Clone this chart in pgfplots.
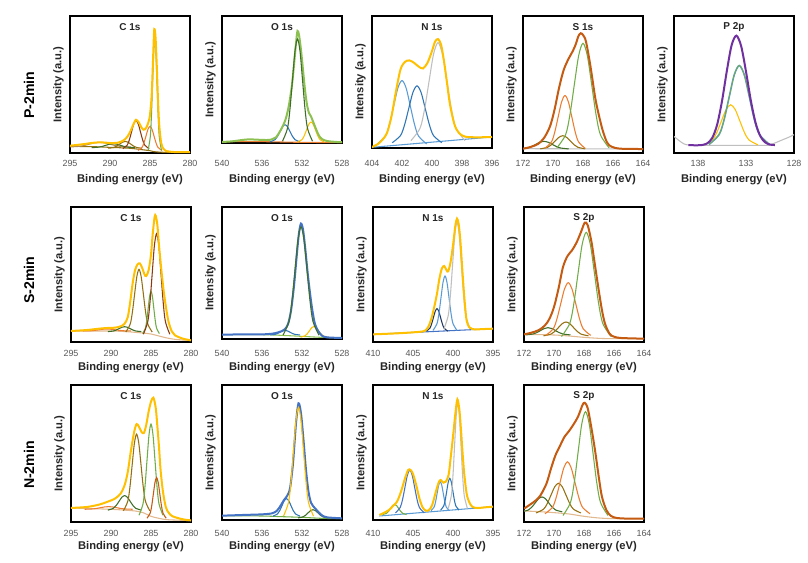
\documentclass[border=0pt]{standalone}
\usepackage{fontspec}
\setmainfont{Liberation Sans}
\usepackage{pgfplots}
\pgfplotsset{compat=1.18}
\definecolor{cy}{HTML}{FFC000}
\definecolor{cg}{HTML}{70AD47}
\definecolor{clg}{HTML}{8CC152}
\definecolor{cdg}{HTML}{3F6E28}
\definecolor{co}{HTML}{ED7D31}
\definecolor{cbr}{HTML}{C55A11}
\definecolor{cdbr}{HTML}{8B3A0F}
\definecolor{col}{HTML}{947010}
\definecolor{ctn}{HTML}{B08A50}
\definecolor{cb}{HTML}{4472C4}
\definecolor{clb}{HTML}{5B9BD5}
\definecolor{cmb}{HTML}{2E75B6}
\definecolor{cnv}{HTML}{203864}
\definecolor{cgr}{HTML}{BFBFBF}
\definecolor{cpu}{HTML}{7030A0}
\definecolor{cbg}{HTML}{E2B98E}
\definecolor{tickc}{HTML}{595959}
\definecolor{labc}{HTML}{262626}
\pgfplotsset{
  xps/.style={scale only axis, width=90pt, x dir=reverse, ymin=0,
    ytick=\empty, axis line style={line width=1.4pt, black},
    xtick style={draw=none},
    tick label style={font=\fontsize{6.7}{8}\selectfont, text=tickc},
    /pgf/number format/assume math mode=true,
    xlabel={Binding energy (eV)}, ylabel={Intensity (a.u.)},
    label style={font=\fontsize{8.4}{10}\selectfont\bfseries, text=labc},
    ylabel style={at={(axis description cs:-0.05,0.5)}, anchor=south, inner sep=0pt},
    xticklabel style={anchor=center},
    xlabel style={at={(axis description cs:0.5,0)}, anchor=center},
    every axis title/.style={at={(axis description cs:0.5,1)}, anchor=center, yshift=-8.25pt, font=\fontsize{7.5}{9}\selectfont\bfseries, text=labc},
    every axis plot/.append style={smooth, line width=0.8pt, mark=none},
  },
  env/.style={line width=1.5pt},
}
\begin{document}
\begin{tikzpicture}
\useasboundingbox (0,0) rectangle (606pt,-421.5pt);
\fill[white] (0,0) rectangle (606pt,-421.5pt);
\node[rotate=90, font=\fontsize{10.6}{12}\selectfont\bfseries] at (21.75pt,-71.25pt) {P-2min};
\node[rotate=90, font=\fontsize{10.6}{12}\selectfont\bfseries] at (21.75pt,-210pt) {S-2min};
\node[rotate=90, font=\fontsize{10.6}{12}\selectfont\bfseries] at (21.75pt,-348.75pt) {N-2min};

% ---------- P1 C 1s (P-2min)
\begin{axis}[xps, at={(52.5pt,-12pt)}, anchor=north west, height=102.75pt,
  xticklabel style={yshift=-7.5pt}, xlabel style={yshift=-20.25pt},
  xmin=280, xmax=295, ymax=412, xtick={280,285,290,295}, title={C 1s}]
\addplot[col] coordinates {(295,20)(292,19)(290,17)(288,15)(287,13)(286,10)(285,7)(284.5,4)(284,3)(283,2)(280,2)};
\addplot[ctn] coordinates {(295,18.3)(293.9,19.9)(293.25,22.5)(292.6,26.5)(291.95,30.4)(291.3,32)(290.65,30.4)(290,26.5)(289.35,22.5)(288.7,19.9)(287.4,18.2)};
\addplot[cdg] coordinates {(292.3,16.1)(291.4,17.6)(290.95,19.9)(290.5,23.3)(290.05,26.6)(289.6,28)(289.15,26.6)(288.7,23.3)(288.25,19.9)(287.8,17.6)(286.9,16.1)};
\addplot[col] coordinates {(290.2,14.2)(289.5,16.8)(289.15,20.8)(288.8,26.7)(288.45,32.5)(288.1,35)(287.75,32.5)(287.4,26.7)(287.05,20.8)(286.7,16.8)(286,14.2)};
\addplot[cdbr] coordinates {(288.4,13)(287.85,23.6)(287.575,39.9)(287.3,64.2)(287.025,87.9)(286.75,98)(286.475,87.9)(286.2,64.2)(285.925,39.9)(285.65,23.6)(285.1,13)};
\addplot[co] coordinates {(286.5,7.8)(286,16.9)(285.75,30.7)(285.5,51.3)(285.25,71.4)(285,80)(284.75,71.4)(284.5,51.3)(284.25,30.7)(284,16.9)(283.5,7.8)};
\addplot[cg] coordinates {(285.24,7.7)(284.96,49.5)(284.82,113.1)(284.68,207.8)(284.54,300.5)(284.4,340)(284.26,300.5)(284.12,207.8)(283.98,113.1)(283.84,49.5)(283.56,7.7)};
\addplot[cy, env] coordinates {(295,22)(293.5,26)(292,31)(291,32)(290,30)(289,31)(288.3,38)(287.8,50)(287.4,68)(287,90)(286.75,100)(286.4,92)(286.1,78)(285.8,70)(285.5,75)(285.2,92)(285,115)(284.8,170)(284.65,260)(284.5,360)(284.42,372)(284.3,345)(284.15,260)(284,160)(283.85,85)(283.6,30)(283.3,12)(283,6)(282,3)(280,3)};
\end{axis}

% ---------- P2 O 1s (P-2min)
\begin{axis}[xps, at={(166.5pt,-12pt)}, anchor=north west, height=95.25pt,
  xticklabel style={yshift=-15pt}, xlabel style={yshift=-27.75pt},
  xmin=528, xmax=540, ymax=382, xtick={528,532,536,540}, title={O 1s}]
\addplot[co] coordinates {(540,4)(536,4)(534,3)(532,2)(528,1)};
\addplot[cmb] coordinates {(535.2,3.6)(534.7,10)(534.45,19.9)(534.2,34.5)(533.95,48.9)(533.7,55)(533.45,48.9)(533.2,34.5)(532.95,19.9)(532.7,10)(532.2,3.6)};
\addplot[cy] coordinates {(532.45,2.7)(532.0,10.3)(531.775,21.8)(531.55,39)(531.325,55.8)(531.1,63)(530.875,55.8)(530.65,39)(530.425,21.8)(530.2,10.3)(529.75,2.7)};
\addplot[clg, env] coordinates {(540,3)(539,5)(538,9)(537.3,11)(536.5,10)(535.5,9)(535,11)(534.6,17)(534.2,35)(533.9,52)(533.6,75)(533.3,115)(533,175)(532.8,235)(532.6,300)(532.45,337)(532.3,325)(532.1,280)(531.9,220)(531.7,160)(531.5,115)(531.3,90)(531.1,80)(530.9,65)(530.6,42)(530.3,22)(530,12)(529.5,6)(528.5,3)(528,3)};
\addplot[cdg] coordinates {(533.95,5.5)(533.45,44.1)(533.2,103)(532.95,190.6)(532.7,276.5)(532.45,313)(532.2,276.5)(531.95,190.6)(531.7,103)(531.45,44.1)(530.95,5.5)};
\end{axis}

% ---------- P3 N 1s (P-2min)
\begin{axis}[xps, at={(279pt,-12pt)}, anchor=north west, height=99pt,
  xticklabel style={yshift=-11.25pt}, xlabel style={yshift=-24pt},
  xmin=396, xmax=404, ymax=395, xtick={396,398,400,402,404}, title={N 1s}]
\addplot[clb] coordinates {(404,2)(396,33)};
\addplot[clb] coordinates {(403.65,12.1)(403.1,36)(402.825,72.3)(402.55,126.4)(402.275,179.4)(402.0,202)(401.725,179.4)(401.45,126.4)(401.175,72.3)(400.9,36)(400.35,12.1)};
\addplot[cmb] coordinates {(402.65,15.9)(402.1,37.3)(401.825,69.8)(401.55,118.3)(401.275,165.8)(401.0,186)(400.725,165.8)(400.45,118.3)(400.175,69.8)(399.9,37.3)(399.35,15.9)};
\addplot[cgr] coordinates {(401.4,22.3)(400.8,59)(400.5,115.1)(400.2,198.5)(399.9,280.2)(399.6,315)(399.3,280.2)(399.0,198.5)(398.7,115.1)(398.4,59)(397.8,22.3)};
\addplot[cy, env] coordinates {(404,3)(403.6,12)(403.3,25)(403,45)(402.7,95)(402.4,170)(402.1,235)(401.8,258)(401.5,262)(401.2,255)(400.9,244)(400.6,238)(400.3,255)(400,290)(399.8,318)(399.6,326)(399.4,310)(399.2,260)(399,195)(398.8,130)(398.5,70)(398.2,45)(397.8,34)(397,32)(396,33)};
\end{axis}

% ---------- P4 S 1s (P-2min)
\begin{axis}[xps, at={(392.25pt,-12pt)}, anchor=north west, height=102.75pt,
  xticklabel style={yshift=-7.5pt}, xlabel style={yshift=-20.25pt},
  xmin=164, xmax=172, ymax=412, xtick={164,166,168,170,172}, title={S 1s}]
\addplot[cgr] coordinates {(172,13)(164,12)};
\addplot[cdg] coordinates {(172.25,12.3)(171.7,15.1)(171.425,19.5)(171.15,25.9)(170.875,32.3)(170.6,35)(170.325,32.3)(170.05,25.9)(169.775,19.5)(169.5,15.1)(168.95,12.3)};
\addplot[col] coordinates {(170.85,12.4)(170.35,17.4)(170.1,25)(169.85,36.3)(169.6,47.3)(169.35,52)(169.1,47.3)(168.85,36.3)(168.6,25)(168.35,17.4)(167.85,12.4)};
\addplot[co] coordinates {(170.55,13.8)(170.1,33.8)(169.875,64.3)(169.65,109.6)(169.425,154.1)(169.2,173)(168.975,154.1)(168.75,109.6)(168.525,64.3)(168.3,33.8)(167.85,13.8)};
\addplot[cg] coordinates {(169.74,15.5)(169.16,55)(168.87,115.3)(168.58,204.9)(168.29,292.6)(168.0,330)(167.71,292.6)(167.42,204.9)(167.13,115.3)(166.84,55)(166.26,15.5)};
\addplot[cbr, env] coordinates {(172,13)(171.5,18)(171,27)(170.6,45)(170.2,80)(169.9,130)(169.6,195)(169.3,248)(169,280)(168.7,305)(168.5,325)(168.3,352)(168.15,360)(168,355)(167.8,335)(167.5,260)(167.2,170)(167,125)(166.7,70)(166.4,32)(166.1,19)(165.5,13)(164,12)};
\end{axis}

% ---------- P5 P 2p (P-2min)
\begin{axis}[xps, at={(505.5pt,-12pt)}, anchor=north west, height=102.75pt,
  xticklabel style={yshift=-7.5pt}, xlabel style={yshift=-20.25pt},
  xmin=128, xmax=140.5, ymax=412, xtick={128,133,138}, title={P 2p}]
\addplot[cgr] coordinates {(140.5,50)(140,38)(139.5,28)(139,24)(138,23)(131,23)(130.5,25)(130,30)(129.5,36)(129,42)(128.5,48)(128,55)};
\addplot[cy] coordinates {(137.45,24.4)(136.5,39.5)(136.025,62.6)(135.55,97)(135.075,130.7)(134.6,145)(134.125,130.7)(133.65,97)(133.175,62.6)(132.7,39.5)(131.75,24.4)};
\addplot[clb, line width=1.2pt] coordinates {(136.85,25.7)(135.8,55.5)(135.275,100.9)(134.75,168.6)(134.225,234.8)(133.7,263)(133.175,234.8)(132.65,168.6)(132.125,100.9)(131.6,55.5)(130.55,25.7)};
\addplot[cg, line width=0.6pt] coordinates {(136.85,25.7)(135.8,55.5)(135.275,100.9)(134.75,168.6)(134.225,234.8)(133.7,263)(133.175,234.8)(132.65,168.6)(132.125,100.9)(131.6,55.5)(130.55,25.7)};
\addplot[cpu, env] coordinates {(139,23.5)(138,23.3)(137.5,24.5)(137,29.7)(136.5,46.3)(136,86)(135.5,156)(135,246)(134.5,324)(134,353)(133.5,321)(133,245)(132.5,158.5)(132,90.6)(131.5,50.2)(131,32)(130.5,25.3)(130,24)};
\end{axis}

% ---------- P6 C 1s (S-2min)
\begin{axis}[xps, at={(53.25pt,-155.25pt)}, anchor=north west, height=101.25pt,
  xticklabel style={yshift=-8.25pt}, xlabel style={yshift=-19.5pt},
  xmin=280, xmax=295, ymax=405, xtick={280,285,290,295}, title={C 1s}]
\addplot[cbg] coordinates {(295,33)(290,33)(288,31)(287,29)(286,27)(285,24)(284,18)(283,12)(282,8)(281,6)(280,5)};
\addplot[co] coordinates {(293.5,33.1)(292.5,33.8)(292,35)(291.5,36.6)(291,38.3)(290.5,39)(290,38.3)(289.5,36.6)(289,35)(288.5,33.8)(287.5,33.1)};
\addplot[cdg] coordinates {(290.4,31.2)(289.7,33)(289.35,35.9)(289.0,40.1)(288.65,44.2)(288.3,46)(287.95,44.2)(287.6,40.1)(287.25,35.9)(286.9,33)(286.2,31.2)};
\addplot[col] coordinates {(288.15,30.1)(287.6,53.7)(287.325,89.7)(287.05,143.2)(286.775,195.7)(286.5,218)(286.225,195.7)(285.95,143.2)(285.675,89.7)(285.4,53.7)(284.85,30.1)};
\addplot[cg] coordinates {(286.05,25.4)(285.7,41.3)(285.525,65.6)(285.35,101.6)(285.175,137)(285.0,152)(284.825,137)(284.65,101.6)(284.475,65.6)(284.3,41.3)(283.95,25.4)};
\addplot[cdbr] coordinates {(285.95,23.4)(285.4,61.3)(285.125,119)(284.85,205)(284.575,289.2)(284.3,325)(284.025,289.2)(283.75,205)(283.475,119)(283.2,61.3)(282.65,23.4)};
\addplot[cy, env] coordinates {(295,33)(293,36)(291.5,40)(290.5,42)(289.5,43)(288.8,47)(288.3,55)(287.9,75)(287.6,120)(287.3,175)(287,215)(286.7,232)(286.4,236)(286.1,222)(285.8,202)(285.6,198)(285.3,215)(285.0,262)(284.8,320)(284.55,375)(284.4,378)(284.2,350)(284.0,290)(283.7,215)(283.4,150)(283.1,100)(282.8,60)(282.4,32)(282,20)(281,10)(280,5)};
\end{axis}

% ---------- P7 O 1s (S-2min)
\begin{axis}[xps, at={(166.5pt,-155.25pt)}, anchor=north west, height=99pt,
  xticklabel style={yshift=-10.5pt}, xlabel style={yshift=-21.75pt},
  xmin=528, xmax=540, ymax=398, xtick={528,532,536,540}, title={O 1s}]
\addplot[clg] coordinates {(540,13)(536,13)(534,11)(532,8)(530,5)(528,4)};
\addplot[cmb] coordinates {(535.2,12.2)(534.7,13.9)(534.45,16.5)(534.2,20.5)(533.95,24.4)(533.7,26)(533.45,24.4)(533.2,20.5)(532.95,16.5)(532.7,13.9)(532.2,12.2)};
\addplot[cy] coordinates {(532.15,5.4)(531.7,9.5)(531.475,15.7)(531.25,25)(531.025,34.1)(530.8,38)(530.575,34.1)(530.35,25)(530.125,15.7)(529.9,9.5)(529.45,5.4)};
\addplot[cb, env] coordinates {(540,13)(538,14)(536,14)(535,16)(534.5,19)(534,24)(533.7,30)(533.4,45)(533.1,85)(532.8,160)(532.5,260)(532.3,320)(532.1,348)(531.9,330)(531.7,280)(531.4,190)(531.1,115)(530.9,75)(530.7,45)(530.4,25)(530,10)(529.5,5)(528,3)};
\addplot[cdg] coordinates {(533.9,11.7)(533.3,52.6)(533.0,115.2)(532.7,208.1)(532.4,299.2)(532.1,338)(531.8,299.2)(531.5,208.1)(531.2,115.2)(530.9,52.6)(530.3,11.7)};
\end{axis}

% ---------- P8 N 1s (S-2min)
\begin{axis}[xps, at={(279.75pt,-155.25pt)}, anchor=north west, height=101.25pt,
  xticklabel style={yshift=-8.25pt}, xlabel style={yshift=-19.5pt},
  xmin=395, xmax=410, ymax=405, xtick={395,400,405,410}, title={N 1s}]
\addplot[cb] coordinates {(410,23)(395,40)};
\addplot[cnv] coordinates {(403.35,32.8)(402.9,41.2)(402.675,54.1)(402.45,73.2)(402.225,92)(402.0,100)(401.775,92)(401.55,73.2)(401.325,54.1)(401.1,41.2)(400.65,32.8)};
\addplot[clb] coordinates {(402.5,34.8)(402.0,55.3)(401.75,86.6)(401.5,133.1)(401.25,178.6)(401.0,198)(400.75,178.6)(400.5,133.1)(400.25,86.6)(400.0,55.3)(399.5,34.8)};
\addplot[cgr] coordinates {(401.15,38.6)(400.6,79)(400.325,140.5)(400.05,232.1)(399.775,321.8)(399.5,360)(399.225,321.8)(398.95,232.1)(398.675,140.5)(398.4,79)(397.85,38.6)};
\addplot[cy, env] coordinates {(410,23)(407,26)(405,29)(404,31)(403.5,34)(403.1,45)(402.7,70)(402.3,110)(402,145)(401.7,190)(401.4,220)(401.1,228)(400.8,215)(400.6,212)(400.3,240)(400,290)(399.7,350)(399.5,370)(399.3,355)(399.1,310)(398.9,240)(398.7,170)(398.5,110)(398.3,65)(398,45)(397.6,39)(397,38)(396,39)(395,40)};
\end{axis}

% ---------- P9 S 2p (S-2min)
\begin{axis}[xps, at={(393pt,-155.25pt)}, anchor=north west, height=101.25pt,
  xticklabel style={yshift=-8.25pt}, xlabel style={yshift=-19.5pt},
  xmin=164, xmax=172, ymax=405, xtick={164,166,168,170,172}, title={S 2p}]
\addplot[cbg] coordinates {(172,23)(170,21)(169,18)(168,14)(167,11)(166,10)(164,10)};
\addplot[cdg] coordinates {(171.9,21.2)(171.4,24)(171.15,28.1)(170.9,34.3)(170.65,40.4)(170.4,43)(170.15,40.4)(169.9,34.3)(169.65,28.1)(169.4,24)(168.9,21.2)};
\addplot[col] coordinates {(170.7,18.5)(170.2,23.7)(169.95,31.6)(169.7,43.5)(169.45,55.1)(169.2,60)(168.95,55.1)(168.7,43.5)(168.45,31.6)(168.2,23.7)(167.7,18.5)};
\addplot[co] coordinates {(170.55,19.8)(170.05,39.6)(169.8,70)(169.55,115)(169.3,159.2)(169.05,178)(168.8,159.2)(168.55,115)(168.3,70)(168.05,39.6)(167.55,19.8)};
\addplot[cg] coordinates {(169.5,16.5)(168.95,55.8)(168.675,115.6)(168.4,204.7)(168.125,291.9)(167.85,329)(167.575,291.9)(167.3,204.7)(167.025,115.6)(166.75,55.8)(166.2,16.5)};
\addplot[cbr, env] coordinates {(172,23)(171.5,28)(171,36)(170.6,50)(170.3,70)(170,105)(169.7,160)(169.4,225)(169.1,258)(168.8,275)(168.5,298)(168.2,330)(167.95,358)(167.75,350)(167.5,300)(167.3,240)(167.0,150)(166.8,95)(166.6,55)(166.3,25)(166,16)(165.5,12)(164,10)};
\end{axis}

% ---------- P10 C 1s (N-2min)
\begin{axis}[xps, at={(53.25pt,-288.75pt)}, anchor=north west, height=102.75pt,
  xticklabel style={yshift=-8.25pt}, xlabel style={yshift=-18.75pt},
  xmin=280, xmax=295, ymax=410, xtick={280,285,290,295}, title={C 1s}]
\addplot[cbg] coordinates {(295,42)(290,38)(288,35)(287,33)(286,28)(285,17)(284,11)(283,7)(281,5)(280,4)};
\addplot[co] coordinates {(293.3,38.1)(292.3,39.1)(291.8,40.6)(291.3,42.9)(290.8,45.1)(290.3,46)(289.8,45.1)(289.3,42.9)(288.8,40.6)(288.3,39.1)(287.3,38.1)};
\addplot[cdg] coordinates {(290.4,35.5)(289.7,41)(289.35,49.3)(289.0,61.7)(288.65,73.8)(288.3,79)(287.95,73.8)(287.6,61.7)(287.25,49.3)(286.9,41)(286.2,35.5)};
\addplot[col] coordinates {(288.45,33.6)(287.9,62.4)(287.625,106.3)(287.35,171.7)(287.075,235.7)(286.8,263)(286.525,235.7)(286.25,171.7)(285.975,106.3)(285.7,62.4)(285.15,33.6)};
\addplot[cg] coordinates {(286.5,20.1)(286.0,54.3)(285.75,106.6)(285.5,184.4)(285.25,260.6)(285.0,293)(284.75,260.6)(284.5,184.4)(284.25,106.6)(284.0,54.3)(283.5,20.1)};
\addplot[cbr] coordinates {(285.5,11.4)(285.1,26.6)(284.9,49.9)(284.7,84.6)(284.5,118.5)(284.3,133)(284.1,118.5)(283.9,84.6)(283.7,49.9)(283.5,26.6)(283.1,11.4)};
\addplot[cy, env] coordinates {(295,42)(293,45)(291.5,52)(290.5,60)(289.5,70)(288.8,85)(288.3,110)(287.9,150)(287.5,215)(287.1,270)(286.8,293)(286.5,285)(286.2,270)(285.9,266)(285.6,290)(285.3,330)(285.0,360)(284.7,372)(284.4,340)(284.2,285)(284,225)(283.8,155)(283.5,90)(283.15,45)(282.8,28)(282.3,17)(281,8)(280,5)};
\end{axis}

% ---------- P11 O 1s (N-2min)
\begin{axis}[xps, at={(166.5pt,-288.75pt)}, anchor=north west, height=101.25pt,
  xticklabel style={yshift=-9.75pt}, xlabel style={yshift=-20.25pt},
  xmin=528, xmax=540, ymax=405, xtick={528,532,536,540}, title={O 1s}]
\addplot[cg] coordinates {(540,13)(536,12)(534,10)(532,8)(530,5)(528,4)};
\addplot[cmb] coordinates {(534.9,11.6)(534.45,18.2)(534.225,28.2)(534.0,43.1)(533.775,57.8)(533.55,64)(533.325,57.8)(533.1,43.1)(532.875,28.2)(532.65,18.2)(532.2,11.6)};
\addplot[cdg] coordinates {(532.4,6.3)(531.9,9.4)(531.65,14.1)(531.4,21.2)(531.15,28.1)(530.9,31)(530.65,28.1)(530.4,21.2)(530.15,14.1)(529.9,9.4)(529.4,6.3)};
\addplot[cb, env] coordinates {(540,13)(538,15)(536,17)(535,20)(534.5,28)(534.1,45)(533.8,60)(533.5,72)(533.2,95)(532.9,170)(532.6,290)(532.35,350)(532.1,320)(531.85,240)(531.6,150)(531.35,85)(531.1,52)(530.9,42)(530.6,32)(530.3,22)(530,14)(529.5,8)(528,5)};
\addplot[cy] coordinates {(533.85,11.7)(533.35,52.6)(533.1,115.2)(532.85,208.1)(532.6,299.2)(532.35,338)(532.1,299.2)(531.85,208.1)(531.6,115.2)(531.35,52.6)(530.85,11.7)};
\end{axis}

% ---------- P12 N 1s (N-2min)
\begin{axis}[xps, at={(279.75pt,-288.75pt)}, anchor=north west, height=101.25pt,
  xticklabel style={yshift=-9.75pt}, xlabel style={yshift=-20.25pt},
  xmin=395, xmax=410, ymax=405, xtick={395,400,405,410}, title={N 1s}]
\addplot[clb] coordinates {(409.2,12)(395,40)};
\addplot[cg] coordinates {(408.8,16.3)(408.3,20.2)(408.05,26.1)(407.8,34.8)(407.55,43.4)(407.3,47)(407.05,43.4)(406.8,34.8)(406.55,26.1)(406.3,20.2)(405.8,16.3)};
\addplot[cb] coordinates {(407.2,21.4)(406.6,37.6)(406.3,62.2)(406.0,98.8)(405.7,134.7)(405.4,150)(405.1,134.7)(404.8,98.8)(404.5,62.2)(404.2,37.6)(403.6,21.4)};
\addplot[clb] coordinates {(402.74,28)(402.36,38.9)(402.17,55.6)(401.98,80.4)(401.79,104.7)(401.6,115)(401.41,104.7)(401.22,80.4)(401.03,55.6)(400.84,38.9)(400.46,28)};
\addplot[cmb] coordinates {(401.54,30.1)(401.16,42)(400.97,60.2)(400.78,87.2)(400.59,113.7)(400.4,125)(400.21,113.7)(400.02,87.2)(399.83,60.2)(399.64,42)(399.26,30.1)};
\addplot[cgr] coordinates {(400.6,34.5)(400.2,74.2)(400.0,134.6)(399.8,224.5)(399.6,312.5)(399.4,350)(399.2,312.5)(399.0,224.5)(398.8,134.6)(398.6,74.2)(398.2,34.5)};
\addplot[cy, env] coordinates {(409.2,15)(408.6,22)(408,30)(407.5,42)(407,55)(406.5,85)(406,125)(405.6,150)(405.3,150)(405,138)(404.6,105)(404.2,65)(403.8,38)(403.4,28)(403,30)(402.6,45)(402.2,80)(401.8,112)(401.55,120)(401.2,112)(400.9,115)(400.55,135)(400.3,185)(400,250)(399.7,320)(399.45,362)(399.2,330)(399,270)(398.8,200)(398.6,140)(398.3,80)(398,55)(397.6,40)(397,36)(396,38)(395,40)};
\end{axis}

% ---------- P13 S 2p (N-2min)
\begin{axis}[xps, at={(393pt,-288.75pt)}, anchor=north west, height=102.75pt,
  xticklabel style={yshift=-8.25pt}, xlabel style={yshift=-18.75pt},
  xmin=164, xmax=172, ymax=410, xtick={164,166,168,170,172}, title={S 2p}]
\addplot[cbg] coordinates {(172,33)(171,31)(170,28)(169,24)(168,17)(167,12)(166,10)(164,10)};
\addplot[cdg] coordinates {(172.15,30.5)(171.7,36.1)(171.475,44.6)(171.25,57.3)(171.025,69.7)(170.8,75)(170.575,69.7)(170.35,57.3)(170.125,44.6)(169.9,36.1)(169.45,30.5)};
\addplot[col] coordinates {(171.2,27)(170.7,38.2)(170.45,55.2)(170.2,80.6)(169.95,105.4)(169.7,116)(169.45,105.4)(169.2,80.6)(168.95,55.2)(168.7,38.2)(168.2,27)};
\addplot[co] coordinates {(170.6,24.7)(170.1,44.2)(169.85,74)(169.6,118.2)(169.35,161.6)(169.1,180)(168.85,161.6)(168.6,118.2)(168.35,74)(168.1,44.2)(167.6,24.7)};
\addplot[cg] coordinates {(169.4,19.5)(168.9,58.5)(168.65,118)(168.4,206.4)(168.15,293.1)(167.9,330)(167.65,293.1)(167.4,206.4)(167.15,118)(166.9,58.5)(166.4,19.5)};
\addplot[cbr, env] coordinates {(172,40)(171.6,52)(171.2,65)(170.9,80)(170.5,115)(170.2,160)(169.9,200)(169.6,228)(169.3,255)(169,272)(168.7,292)(168.4,315)(168.1,350)(167.95,357)(167.75,340)(167.5,280)(167.25,210)(167,130)(166.8,75)(166.5,35)(166.2,18)(165.8,12)(165,10)(164,10)};
\end{axis}
\end{tikzpicture}
\end{document}
